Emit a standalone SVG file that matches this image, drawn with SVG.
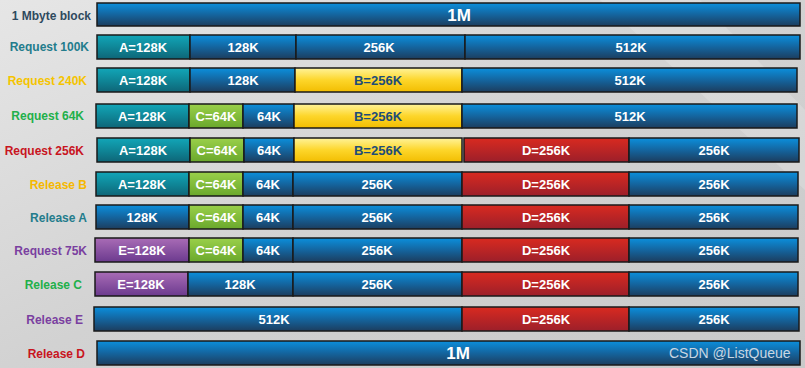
<svg xmlns="http://www.w3.org/2000/svg" width="805" height="368" viewBox="0 0 805 368">
<defs>
<linearGradient id="bg" x1="0" y1="0" x2="1" y2="1">
<stop offset="0" stop-color="#e6e6e6"/><stop offset="0.5" stop-color="#d2d2d2"/><stop offset="1" stop-color="#c9c9c9"/>
</linearGradient>
<linearGradient id="gBlue" x1="0" y1="0" x2="0" y2="1">
<stop offset="0" stop-color="#0b8fdc"/><stop offset="0.5" stop-color="#14659f"/><stop offset="1" stop-color="#1c3d5e"/>
</linearGradient>
<linearGradient id="gTeal" x1="0" y1="0" x2="0" y2="1">
<stop offset="0" stop-color="#12a6b8"/><stop offset="0.5" stop-color="#0f8798"/><stop offset="1" stop-color="#0e6577"/>
</linearGradient>
<linearGradient id="gGreen" x1="0" y1="0" x2="0" y2="1">
<stop offset="0" stop-color="#9ad04a"/><stop offset="1" stop-color="#6aa82c"/>
</linearGradient>
<linearGradient id="gYellow" x1="0" y1="0" x2="0" y2="1">
<stop offset="0" stop-color="#fff39a"/><stop offset="0.5" stop-color="#fdd62a"/><stop offset="1" stop-color="#f2bd00"/>
</linearGradient>
<linearGradient id="gRed" x1="0" y1="0" x2="0" y2="1">
<stop offset="0" stop-color="#d92a20"/><stop offset="1" stop-color="#9c1f2a"/>
</linearGradient>
<linearGradient id="gPurple" x1="0" y1="0" x2="0" y2="1">
<stop offset="0" stop-color="#a96cb6"/><stop offset="1" stop-color="#6b3a8e"/>
</linearGradient>
</defs>
<style>
.seg{stroke:#1a1a1a;stroke-width:1.5}
.blue{fill:url(#gBlue)}
.teal{fill:url(#gTeal)}
.green{fill:url(#gGreen)}
.yellow{fill:url(#gYellow)}
.red{fill:url(#gRed)}
.purple{fill:url(#gPurple)}
.t{font-family:"Liberation Sans",Arial,sans-serif;font-weight:bold;font-size:13px;fill:#ffffff;text-anchor:middle}
.ty{fill:#1e4d78}
.big{font-size:17px}
.lbl{font-family:"Liberation Sans",Arial,sans-serif;font-weight:bold;font-size:12px;text-anchor:end}
.wm{font-family:"Liberation Sans",Arial,sans-serif;font-size:14px;fill:#c9d6e2}
</style>
<rect x="0" y="0" width="805" height="368" fill="url(#bg)"/>
<polygon points="600,0 700,0 805,110 805,190" fill="#ffffff" opacity="0.18"/>

<g id="row0">
<text class="lbl" x="91" y="20" fill="#2f4a5e">1 Mbyte block</text>
<rect class="seg blue" x="97" y="3" width="703" height="23"/>
<text class="t big" x="459" y="21">1M</text>
</g>

<g id="row1">
<text class="lbl" x="89" y="51" fill="#237c8c">Request 100K</text>
<rect class="seg teal" x="97" y="35" width="93" height="24"/><text class="t" x="143" y="52">A=128K</text>
<rect class="seg blue" x="190" y="35" width="106" height="24"/><text class="t" x="243" y="52">128K</text>
<rect class="seg blue" x="296" y="35" width="169" height="24"/><text class="t" x="379" y="52">256K</text>
<rect class="seg blue" x="465" y="35" width="335" height="24"/><text class="t" x="631" y="52">512K</text>
</g>

<g id="row2">
<text class="lbl" x="87" y="85" fill="#f5c400">Request 240K</text>
<rect class="seg teal" x="97" y="68" width="93" height="24"/><text class="t" x="143" y="85">A=128K</text>
<rect class="seg blue" x="190" y="68" width="105" height="24"/><text class="t" x="243" y="85">128K</text>
<rect class="seg yellow" x="295" y="68" width="167" height="24"/><text class="t ty" x="378" y="85">B=256K</text>
<rect class="seg blue" x="462" y="68" width="335" height="24"/><text class="t" x="630" y="85">512K</text>
</g>

<g id="row3">
<text class="lbl" x="84" y="120" fill="#22b04a">Request 64K</text>
<rect class="seg teal" x="96" y="104" width="93" height="24"/><text class="t" x="142" y="121">A=128K</text>
<rect class="seg green" x="189" y="104" width="54" height="24"/><text class="t" x="216" y="121">C=64K</text>
<rect class="seg blue" x="243" y="104" width="51" height="24"/><text class="t" x="269" y="121">64K</text>
<rect class="seg yellow" x="294" y="104" width="168" height="24"/><text class="t ty" x="378" y="121">B=256K</text>
<rect class="seg blue" x="462" y="104" width="335" height="24"/><text class="t" x="630" y="121">512K</text>
</g>

<g id="row4">
<text class="lbl" x="84" y="155" fill="#c8141e">Request 256K</text>
<rect class="seg teal" x="97" y="138" width="93" height="24"/><text class="t" x="143" y="155">A=128K</text>
<rect class="seg green" x="190" y="138" width="54" height="24"/><text class="t" x="217" y="155">C=64K</text>
<rect class="seg blue" x="244" y="138" width="50" height="24"/><text class="t" x="269" y="155">64K</text>
<rect class="seg yellow" x="294" y="138" width="168" height="24"/><text class="t ty" x="378" y="155">B=256K</text>
<rect class="seg red" x="464" y="138" width="165" height="24"/><text class="t" x="546" y="155">D=256K</text>
<rect class="seg blue" x="629" y="138" width="170" height="24"/><text class="t" x="714" y="155">256K</text>
</g>

<g id="row5">
<text class="lbl" x="87" y="189" fill="#f5b800">Release B</text>
<rect class="seg teal" x="96" y="172" width="93" height="24"/><text class="t" x="142" y="189">A=128K</text>
<rect class="seg green" x="189" y="172" width="54" height="24"/><text class="t" x="216" y="189">C=64K</text>
<rect class="seg blue" x="243" y="172" width="50" height="24"/><text class="t" x="268" y="189">64K</text>
<rect class="seg blue" x="293" y="172" width="169" height="24"/><text class="t" x="377" y="189">256K</text>
<rect class="seg red" x="462" y="172" width="167" height="24"/><text class="t" x="546" y="189">D=256K</text>
<rect class="seg blue" x="629" y="172" width="169" height="24"/><text class="t" x="714" y="189">256K</text>
</g>

<g id="row6">
<text class="lbl" x="87" y="222" fill="#237c8c">Release A</text>
<rect class="seg blue" x="96" y="205" width="93" height="24"/><text class="t" x="142" y="222">128K</text>
<rect class="seg green" x="189" y="205" width="54" height="24"/><text class="t" x="216" y="222">C=64K</text>
<rect class="seg blue" x="243" y="205" width="50" height="24"/><text class="t" x="268" y="222">64K</text>
<rect class="seg blue" x="293" y="205" width="169" height="24"/><text class="t" x="377" y="222">256K</text>
<rect class="seg red" x="462" y="205" width="167" height="24"/><text class="t" x="546" y="222">D=256K</text>
<rect class="seg blue" x="629" y="205" width="169" height="24"/><text class="t" x="714" y="222">256K</text>
</g>

<g id="row7">
<text class="lbl" x="87" y="255" fill="#7a3fa0">Request 75K</text>
<rect class="seg purple" x="95" y="238" width="94" height="24"/><text class="t" x="142" y="255">E=128K</text>
<rect class="seg green" x="189" y="238" width="54" height="24"/><text class="t" x="216" y="255">C=64K</text>
<rect class="seg blue" x="243" y="238" width="50" height="24"/><text class="t" x="268" y="255">64K</text>
<rect class="seg blue" x="293" y="238" width="169" height="24"/><text class="t" x="377" y="255">256K</text>
<rect class="seg red" x="462" y="238" width="167" height="24"/><text class="t" x="546" y="255">D=256K</text>
<rect class="seg blue" x="629" y="238" width="169" height="24"/><text class="t" x="714" y="255">256K</text>
</g>

<g id="row8">
<text class="lbl" x="82" y="289" fill="#22b04a">Release C</text>
<rect class="seg purple" x="95" y="272" width="93" height="24"/><text class="t" x="141" y="289">E=128K</text>
<rect class="seg blue" x="188" y="272" width="105" height="24"/><text class="t" x="240" y="289">128K</text>
<rect class="seg blue" x="293" y="272" width="169" height="24"/><text class="t" x="377" y="289">256K</text>
<rect class="seg red" x="462" y="272" width="167" height="24"/><text class="t" x="546" y="289">D=256K</text>
<rect class="seg blue" x="629" y="272" width="169" height="24"/><text class="t" x="714" y="289">256K</text>
</g>

<g id="row9">
<text class="lbl" x="83" y="324" fill="#7a3fa0">Release E</text>
<rect class="seg blue" x="94" y="307" width="368" height="24"/><text class="t" x="274" y="324">512K</text>
<rect class="seg red" x="462" y="307" width="167" height="24"/><text class="t" x="546" y="324">D=256K</text>
<rect class="seg blue" x="629" y="307" width="170" height="24"/><text class="t" x="714" y="324">256K</text>
</g>

<g id="row10">
<text class="lbl" x="85" y="358" fill="#c8141e">Release D</text>
<rect class="seg blue" x="97" y="341" width="703" height="24"/>
<text class="t big" x="458" y="359">1M</text>
<text class="wm" x="669" y="358">CSDN @ListQueue</text>
</g>
</svg>
